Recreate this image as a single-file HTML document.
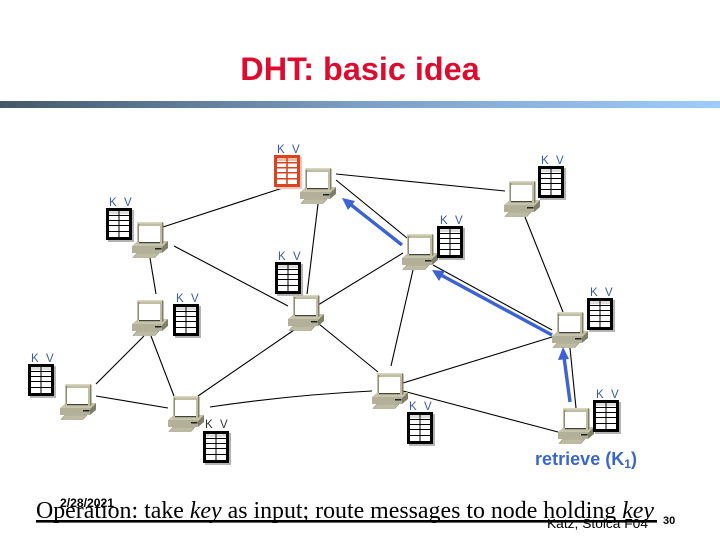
<!DOCTYPE html>
<html><head><meta charset="utf-8"><style>
html,body{margin:0;padding:0;background:#fff}
svg{display:block}
</style></head><body>
<svg width="720" height="540" viewBox="0 0 720 540" xmlns="http://www.w3.org/2000/svg">
<defs>
<linearGradient id="g" x1="0" x2="1" y1="0" y2="0"><stop offset="0" stop-color="#44586a"/><stop offset="0.5" stop-color="#7b9fc6"/><stop offset="1" stop-color="#a0ccfa"/></linearGradient>
<g id="pc">
<polygon points="1,35.5 5,31 27,31 23,35.5" fill="#bdbba2" stroke="#97957e" stroke-width=".6"/>
<polygon points="0,24 6,19 36,19 30,25" fill="#c6c4ab"/>
<rect x="0" y="24" width="30" height="7" fill="#b2b098"/>
<polygon points="30,25 36,19 36,26 30,31" fill="#7f7e69"/>
<rect x="23" y="26" width="6.5" height="1.5" fill="#222"/>
<rect x="5" y="0" width="25" height="22" fill="#bfbea3"/>
<polygon points="30,0 31.5,1 31.5,21 30,22" fill="#7f7e69"/>
<rect x="5" y="0" width="25" height="1.5" fill="#d8d7c0"/>
<rect x="6" y="2" width="1.5" height="18" fill="#8f8e78"/>
<rect x="7" y="4" width="21" height="16" fill="#fff"/>
<rect x="7" y="20" width="21" height="1.2" fill="#44443a"/>
</g>
<g id="tb">
<rect x="2" y="2" width="26" height="32" fill="#b4b4b4"/>
<rect x="0" y="0" width="26" height="32" fill="#000"/>
<rect x="3" y="3" width="20" height="26" fill="#fff"/>
<rect x="3" y="3" width="20" height="3" fill="#ddd"/>
<g fill="#000"><rect x="12.5" y="3" width="1" height="26"/><rect x="3" y="7" width="20" height="1"/><rect x="3" y="12" width="20" height="1"/><rect x="3" y="17" width="20" height="1"/><rect x="3" y="23" width="20" height="1"/></g>
</g>
<g id="tr">
<rect x="2" y="2" width="26" height="32" fill="#f3c4b8"/>
<rect x="0" y="0" width="26" height="32" fill="#d9431f"/>
<rect x="3" y="3" width="20" height="26" fill="#fff"/>
<rect x="3" y="3" width="20" height="3" fill="#f0b9a8"/>
<g fill="#d9431f"><rect x="12.2" y="3" width="1.6" height="26"/><rect x="3" y="7" width="20" height="1.5"/><rect x="3" y="12" width="20" height="1.5"/><rect x="3" y="17" width="20" height="1.5"/><rect x="3" y="23" width="20" height="1.5"/></g>
</g>
</defs>

<text x="360" y="80" text-anchor="middle" font-family="'Liberation Sans',sans-serif" font-weight="bold" font-size="32.4" fill="#dd0c2f">DHT: basic idea</text>
<rect x="0" y="101" width="720" height="7" fill="url(#g)"/>

<g stroke="#000" stroke-width="1.1" fill="none">
<line x1="163" y1="227" x2="298" y2="183"/>
<line x1="174" y1="246" x2="288" y2="306"/>
<line x1="150" y1="258" x2="156" y2="294"/>
<line x1="318" y1="204" x2="307" y2="294"/>
<line x1="144" y1="336" x2="96" y2="384"/>
<line x1="151" y1="336" x2="174" y2="396"/>
<line x1="96" y1="396" x2="168" y2="408"/>
<line x1="198" y1="396" x2="294" y2="330"/>
<path d="M210 407 Q290 395 372 391"/>
<line x1="318" y1="305" x2="403" y2="253"/>
<line x1="319" y1="324" x2="378" y2="372"/>
<line x1="391" y1="366" x2="413" y2="270"/>
<line x1="403" y1="383" x2="552" y2="337"/>
<line x1="403" y1="391" x2="558" y2="432"/>
<line x1="433" y1="265" x2="552" y2="330"/>
<line x1="570" y1="348" x2="576" y2="408"/>
<line x1="525" y1="217" x2="563" y2="312"/>
<line x1="336" y1="180" x2="407" y2="238"/>
<line x1="336" y1="174" x2="505" y2="191"/>
</g>

<use href="#pc" x="300" y="168"/>
<use href="#pc" x="504" y="181"/>
<use href="#pc" x="132" y="222"/>
<use href="#pc" x="402" y="234"/>
<use href="#pc" x="288" y="295"/>
<use href="#pc" x="132" y="300"/>
<use href="#pc" x="552" y="312"/>
<use href="#pc" x="558" y="408"/>
<use href="#pc" x="372" y="373"/>
<use href="#pc" x="168" y="396"/>
<use href="#pc" x="60" y="384"/>

<use href="#tr" x="274" y="155"/>
<use href="#tb" x="538" y="166"/>
<use href="#tb" x="106" y="208"/>
<use href="#tb" x="437" y="226"/>
<use href="#tb" x="275" y="262"/>
<use href="#tb" x="173" y="304"/>
<use href="#tb" x="587" y="298"/>
<use href="#tb" x="593" y="400"/>
<use href="#tb" x="28" y="364"/>
<use href="#tb" x="407" y="412"/>
<use href="#tb" x="203" y="431"/>

<g font-family="'Liberation Sans',sans-serif" font-size="11.5" fill="#3a5aa8">
<text x="277 285 292" y="153">K V</text>
<text x="541 549 556" y="164">K V</text>
<text x="109 117 124" y="206">K V</text>
<text x="440 448 455" y="224">K V</text>
<text x="278 286 293" y="260">K V</text>
<text x="176 184 191" y="302">K V</text>
<text x="590 598 605" y="296">K V</text>
<text x="596 604 611" y="398">K V</text>
<text x="31 39 46" y="362">K V</text>
<text x="409 417 424" y="410">K V</text>
<text x="205 213 220" y="428" fill="#333">K V</text>
</g>

<g stroke="#3c62d4" stroke-width="3.4" fill="#3c62d4">
<line x1="402" y1="245" x2="350" y2="204"/>
<polygon points="342,198 355,201 348,210" stroke="none"/>
<line x1="552" y1="335" x2="441" y2="275"/>
<polygon points="432,270 445,271 439,281" stroke="none"/>
<line x1="570" y1="402" x2="564" y2="357"/>
<polygon points="563,347 569,359 558,360" stroke="none"/>
</g>

<text x="535" y="465" font-family="'Liberation Sans',sans-serif" font-weight="bold" font-size="16" fill="#3a66cc" style="font-size:18px" textLength="102" lengthAdjust="spacing">retrieve (K<tspan font-size="12" style="font-size:12px" dy="3">1</tspan><tspan dy="-3">)</tspan></text>

<text x="36" y="518" font-family="'Liberation Serif',serif" font-size="24" fill="#000" textLength="618" lengthAdjust="spacingAndGlyphs">Operation: take <tspan font-style="italic">key</tspan> as input; route messages to node holding <tspan font-style="italic">key</tspan></text>
<rect x="36" y="520" width="621" height="2.6" fill="#000"/>
<text x="60" y="507" font-family="'Liberation Sans',sans-serif" font-size="12" font-weight="bold" fill="#000" textLength="54" lengthAdjust="spacingAndGlyphs">2/28/2021</text>
<text x="547" y="528" font-family="'Liberation Sans',sans-serif" font-size="13" fill="#000" textLength="101" lengthAdjust="spacingAndGlyphs">Katz, Stoica F04</text>
<text x="663" y="524" font-family="'Liberation Sans',sans-serif" font-size="11" font-weight="bold" fill="#000">30</text>
</svg>
</body></html>
